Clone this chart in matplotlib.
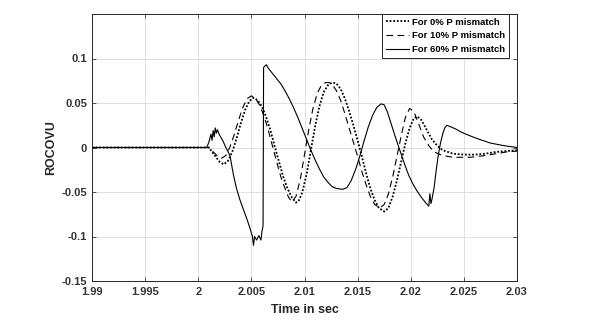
import numpy as np
import matplotlib.pyplot as plt
from matplotlib.ticker import FixedLocator, FixedFormatter

plt.rcParams['font.family'] = ['Liberation Sans', 'DejaVu Sans']
plt.rcParams['font.weight'] = 'bold'

# 0% P mismatch (dotted)
t_p0 = [1.99, 2.0, 2.001, 2.0015, 2.002, 2.0024, 2.0028, 2.0032, 2.0036, 2.004,
        2.0044, 2.0048, 2.0052, 2.0056, 2.006, 2.0064, 2.0068, 2.0072, 2.0076, 2.008,
        2.0084, 2.0088, 2.0092, 2.0095, 2.0098, 2.0102, 2.0106, 2.011, 2.0114, 2.0118,
        2.0122, 2.0126, 2.013, 2.0134, 2.0138, 2.0142, 2.0146, 2.015, 2.0154, 2.0158,
        2.0162, 2.0166, 2.017, 2.0175, 2.0179, 2.0183, 2.0187, 2.0191, 2.0195, 2.0199,
        2.0203, 2.0206, 2.021, 2.0215, 2.022, 2.0225, 2.023, 2.024, 2.025, 2.026,
        2.027, 2.028, 2.029, 2.03]
v_p0 = [0.0, 0.0, 0.0, -0.008, -0.016, -0.019, -0.015, -0.005, 0.010, 0.027,
        0.042, 0.052, 0.056, 0.053, 0.046, 0.034, 0.019, 0.001, -0.016, -0.033,
        -0.046, -0.056, -0.062, -0.059, -0.050, -0.030, -0.003, 0.024, 0.046, 0.062,
        0.070, 0.073, 0.072, 0.066, 0.055, 0.041, 0.025, 0.008, -0.010, -0.029,
        -0.046, -0.059, -0.068, -0.072, -0.068, -0.055, -0.037, -0.016, 0.005, 0.022,
        0.033, 0.035, 0.031, 0.020, 0.009, 0.002, -0.003, -0.007, -0.008, -0.008,
        -0.007, -0.005, -0.004, -0.003]

# 10% P mismatch (dashed)
t_p10 = [1.99, 2.0, 2.001, 2.0015, 2.0019, 2.0022, 2.0026, 2.003, 2.0034, 2.0038,
         2.0042, 2.0046, 2.005, 2.0054, 2.0058, 2.0062, 2.0066, 2.007, 2.0074, 2.0078,
         2.0082, 2.0085, 2.0088, 2.0092, 2.0096, 2.01, 2.0104, 2.0108, 2.0112, 2.0116,
         2.012, 2.0123, 2.0126, 2.013, 2.0134, 2.0138, 2.0142, 2.0146, 2.015, 2.0154,
         2.0158, 2.0162, 2.0166, 2.0171, 2.0175, 2.0179, 2.0183, 2.0187, 2.0191, 2.0195,
         2.0199, 2.0203, 2.0207, 2.0212, 2.0217, 2.0222, 2.023, 2.024, 2.0256, 2.027,
         2.028, 2.029, 2.03]
v_p10 = [0.0, 0.0, 0.0, -0.006, -0.011, -0.012, -0.009, 0.001, 0.015, 0.031,
         0.045, 0.055, 0.058, 0.055, 0.047, 0.035, 0.019, 0.001, -0.017, -0.034,
         -0.047, -0.056, -0.061, -0.055, -0.036, -0.008, 0.020, 0.044, 0.061, 0.070,
         0.073, 0.073, 0.071, 0.064, 0.053, 0.038, 0.022, 0.006, -0.010, -0.027,
         -0.042, -0.055, -0.064, -0.068, -0.064, -0.052, -0.033, -0.010, 0.013, 0.034,
         0.044, 0.040, 0.028, 0.012, 0.002, -0.005, -0.009, -0.011, -0.011, -0.009,
         -0.007, -0.005, -0.004]

# 60% P mismatch (solid)
t_p60 = [1.99, 2.0, 2.0008, 2.001, 2.0012, 2.0013, 2.0014, 2.0015, 2.0016, 2.0017,
         2.0018, 2.002, 2.0023, 2.0026, 2.0029, 2.003, 2.0033, 2.0036, 2.0039, 2.0042,
         2.0046, 2.0049, 2.0051, 2.0052, 2.0053, 2.0055, 2.0057, 2.0059, 2.006, 2.0061,
         2.00615, 2.0064, 2.0066, 2.007, 2.0074, 2.0078, 2.0082, 2.0086, 2.009, 2.0094,
         2.0098, 2.0102, 2.0106, 2.011, 2.0114, 2.0118, 2.0122, 2.0126, 2.013, 2.0136,
         2.014, 2.0144, 2.0148, 2.0152, 2.0156, 2.016, 2.0164, 2.0168, 2.0172, 2.0175,
         2.0178, 2.0182, 2.0186, 2.019, 2.0194, 2.0198, 2.0202, 2.0206, 2.021, 2.0214,
         2.0217, 2.0218, 2.0219, 2.022, 2.0222, 2.0224, 2.0226, 2.0228, 2.023, 2.0232,
         2.0234, 2.0238, 2.0242, 2.0248, 2.0256, 2.0265, 2.0275, 2.0288, 2.03]
v_p60 = [0.0, 0.0, 0.0, 0.006, 0.015, 0.008, 0.019, 0.012, 0.022, 0.016,
         0.020, 0.014, 0.008, 0.000, -0.007, -0.010, -0.030, -0.046, -0.058, -0.068,
         -0.081, -0.092, -0.100, -0.110, -0.100, -0.104, -0.099, -0.104, -0.094, -0.088,
         0.090, 0.093, 0.089, 0.083, 0.077, 0.071, 0.063, 0.054, 0.044, 0.033,
         0.021, 0.009, -0.003, -0.014, -0.024, -0.033, -0.039, -0.044, -0.046, -0.047,
         -0.045, -0.037, -0.025, -0.010, 0.007, 0.023, 0.036, 0.045, 0.049, 0.048,
         0.040, 0.025, 0.010, -0.004, -0.018, -0.031, -0.041, -0.049, -0.056, -0.062,
         -0.066, -0.052, -0.063, -0.058, -0.045, -0.025, -0.008, 0.005, 0.015, 0.022,
         0.025, 0.023, 0.021, 0.017, 0.013, 0.009, 0.005, 0.002, 0.0]

x_ticks = [1.99, 1.995, 2.0, 2.005, 2.01, 2.015, 2.02, 2.025, 2.03]
x_labels = ['1.99', '1.995', '2', '2.005', '2.01', '2.015', '2.02', '2.025', '2.03']
y_ticks = [-0.15, -0.1, -0.05, 0.0, 0.05, 0.1]
y_labels = ['-0.15', '-0.1', '-0.05', '0', '0.05', '0.1']

fig = plt.figure(figsize=(5.92, 3.26), dpi=100)
ax = fig.add_axes([92/592, 1 - 281/326, 425/592, 267/326])

ax.plot(t_p0, v_p0, color='black', linestyle=(0, (1, 1)), lw=1.3, label='For 0% P mismatch')
ax.plot(t_p10, v_p10, color='black', linestyle=(0, (6, 4)), lw=0.8, label='For 10% P mismatch')
ax.plot(t_p60, v_p60, color='black', linestyle='-', lw=0.8, label='For 60% P mismatch')

ax.set_xlim(1.99, 2.03)
ax.set_ylim(-0.15, 0.15)
ax.xaxis.set_major_locator(FixedLocator(x_ticks))
ax.xaxis.set_major_formatter(FixedFormatter(x_labels))
ax.yaxis.set_major_locator(FixedLocator(y_ticks))
ax.yaxis.set_major_formatter(FixedFormatter(y_labels))

ax.grid(True, color='#dcdcdc', lw=0.6)
ax.set_axisbelow(True)
ax.tick_params(direction='in', length=3, width=0.6, colors='#333333',
               labelsize=8, top=True, right=True)
ax.tick_params(axis='x', pad=4.5)
ax.tick_params(axis='y', pad=3.5)
for lab in ax.get_xticklabels() + ax.get_yticklabels():
    lab.set_fontweight('bold')
for sp in ax.spines.values():
    sp.set_color('#262626')
    sp.set_linewidth(0.7)

ax.set_xlabel('Time in sec', fontsize=9, fontweight='bold', color='#262626', labelpad=5)
ax.set_ylabel('ROCOVU', fontsize=9, fontweight='bold', color='#262626', labelpad=3)

leg = ax.legend(loc='upper right', bbox_to_anchor=((509 - 92) / 425, 1.0), borderaxespad=0,
                fontsize=6.8, frameon=True, fancybox=False, framealpha=1,
                edgecolor='#262626', handlelength=2.5, handletextpad=0.3,
                labelspacing=0.5, borderpad=0.4)
leg.get_frame().set_linewidth(0.7)
for txt in leg.get_texts():
    txt.set_fontweight('bold')

fig.savefig('out.png', dpi=100)
